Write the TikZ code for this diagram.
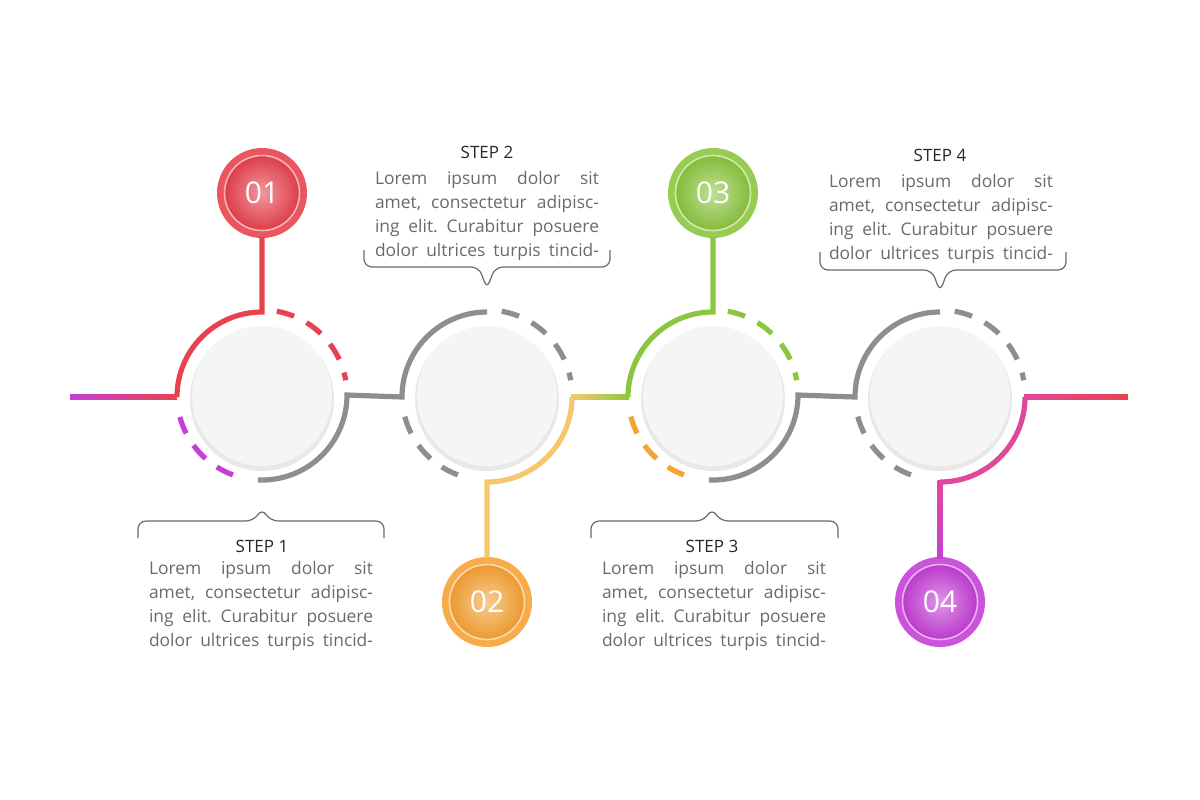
\documentclass[tikz,border=0pt]{standalone}
\usepackage{fontspec}
\setmainfont{Open Sans}
\frenchspacing
\begin{document}
\begin{tikzpicture}[x=0.5pt,y=-0.5pt,line cap=butt]
\definecolor{cred}{HTML}{E8424E}
\definecolor{cgray}{HTML}{8E8E8E}
\definecolor{cyel}{HTML}{F5C870}
\definecolor{cgreen}{HTML}{8CC63F}
\definecolor{corange}{HTML}{F7A234}
\definecolor{cpurple}{HTML}{C53FD6}
\definecolor{cpink}{HTML}{E0489C}
\definecolor{ctext}{HTML}{6A6A6A}
\tikzset{
 seg/.style={line width=2.6pt},
 dsh/.style={line width=2.6pt,dash pattern=on 9pt off 7pt},
 brace/.style={draw=ctext,line width=0.6pt,rounded corners=4pt},
 title/.style={font=\fontsize{8.5}{10}\selectfont,text=black!85},
 para/.style={font=\fontsize{8.7}{12}\selectfont,text=ctext,align=center,inner sep=0pt},
 numtxt/.style={font=\fontsize{15}{15}\selectfont,text=white}
}
\useasboundingbox (0,0) rectangle (1200,799);
% big circles
\foreach \n/\x in {c1/262,c2/487,c3/713,c4/940}{
 \fill[black!9] (\x,399) circle(72);
 \fill[black!4] (\x,396) circle(70);
 \node[circle,minimum size=134pt*0.5,inner sep=0pt,fill=white!96!black] (\n) at (\x,395) {};
}
% number circles
\newcommand{\numcirc}[4]{%
 \fill[#3!90!white] (#1) circle(45);
 \shade[inner color=#3!55!white,outer color=#3!95!black] (#1) circle(37);
 \draw[white!60!#3,line width=0.8pt] (#1) circle(37.5);
 \node[numtxt] (#4) at (#1) {#2};}
\numcirc{262,193}{01}{cred}{n1}
\numcirc{487,602}{02}{corange}{n2}
\numcirc{713,193}{03}{cgreen}{n3}
\numcirc{940,602}{04}{cpurple}{n4}
% circle 1
\shade[left color=cpurple,right color=cred] (70,394.5) rectangle (177,399.5);
\draw[seg,cred] (177,397) arc[start angle=180,end angle=270,radius=85] -- (262,237);
\draw[dsh,cred] (262,395) ++(280:85) arc[start angle=280,end angle=350,radius=85];
\draw[dsh,cpurple] (262,395) ++(110:85) arc[start angle=110,end angle=165,radius=85];
\draw[seg,cgray] (258,480) -- (262,480) arc[start angle=90,end angle=0,radius=85] -- (402,397) arc[start angle=180,end angle=270,radius=85];
% circle 2
\draw[dsh,cgray] (487,395) ++(280:85) arc[start angle=280,end angle=350,radius=85];
\draw[dsh,cgray] (487,395) ++(110:85) arc[start angle=110,end angle=170,radius=85];
\draw[seg,cyel] (572,397) arc[start angle=0,end angle=90,radius=85] -- (487,558);
\shade[left color=cyel,right color=cgreen] (571,394.5) rectangle (629,399.5);
% circle 3
\draw[seg,cgreen] (628,397) arc[start angle=180,end angle=270,radius=85] -- (713,237);
\draw[dsh,cgreen] (713,395) ++(280:85) arc[start angle=280,end angle=350,radius=85];
\draw[dsh,corange] (713,395) ++(110:85) arc[start angle=110,end angle=170,radius=85];
\draw[seg,cgray] (709,480) -- (713,480) arc[start angle=90,end angle=0,radius=85] -- (855,397) arc[start angle=180,end angle=270,radius=85];
% circle 4
\draw[dsh,cgray] (940,395) ++(280:85) arc[start angle=280,end angle=350,radius=85];
\draw[dsh,cgray] (940,395) ++(110:85) arc[start angle=110,end angle=170,radius=85];
\draw[seg,cpink] (1025,397) arc[start angle=0,end angle=90,radius=85];
\shade[top color=cpink,bottom color=cpurple] (937.4,480) rectangle (942.6,558);
\shade[left color=cpink,right color=cred] (1024,394.5) rectangle (1128,399.5);
% braces
\draw[brace] (138,538) -- (138,521) -- (254,521) -- (262,508) -- (270,521) -- (384,521) -- (384,538);
\draw[brace] (591,538) -- (591,521) -- (704,521) -- (712,508) -- (720,521) -- (838,521) -- (838,538);
\draw[brace] (364,250) -- (364,267) -- (479,267) -- (487,289) -- (495,267) -- (610,267) -- (610,250);
\draw[brace] (820,252) -- (820,270) -- (932,270) -- (940,292) -- (948,270) -- (1066,270) -- (1066,252);
% texts
\newcommand{\lorem}{\makebox[112pt][s]{Lorem ipsum dolor sit}\\\makebox[112pt][s]{amet, consectetur adipisc-}\\\makebox[112pt][s]{ing elit. Curabitur posuere}\\\makebox[112pt][s]{dolor ultrices turpis tincid-}}
\node[title] (t1) at (262,546) {STEP 1};
\node[title] (t2) at (487,152) {STEP 2};
\node[title] (t3) at (712,546) {STEP 3};
\node[title] (t4) at (940,155) {STEP 4};
\node[para] (p1) at (261,606) {\lorem};
\node[para] (p2) at (487,216) {\lorem};
\node[para] (p3) at (714,606) {\lorem};
\node[para] (p4) at (941,219) {\lorem};
\end{tikzpicture}
\end{document}
